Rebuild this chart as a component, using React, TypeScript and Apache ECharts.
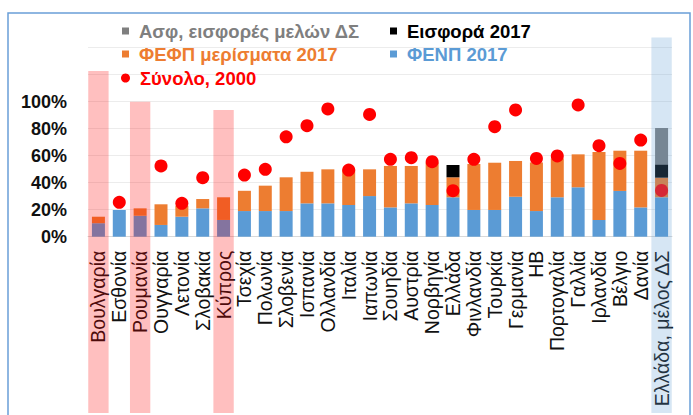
import React, { useEffect, useRef } from 'react';
import * as echarts from 'echarts';

const categories = [
  'Βουλγαρία', 'Εσθονία', 'Ρουμανία', 'Ουγγαρία', 'Λετονία', 'Σλοβακία', 'Κύπρος',
  'Τσεχία', 'Πολωνία', 'Σλοβενία', 'Ισπανία', 'Ολλανδία', 'Ιταλία', 'Ιαπωνία',
  'Σουηδία', 'Αυστρία', 'Νορβηγία', 'Ελλάδα', 'Φινλανδία', 'Τουρκία', 'Γερμανία',
  'ΗΒ', 'Πορτογαλία', 'Γαλλία', 'Ιρλανδία', 'Βέλγιο', 'Δανία', 'Ελλάδα, μέλος ΔΣ',
];

// ΦΕΝΠ 2017 (blue)
const fenp2017 = [
  10, 19.8, 15.5, 8.7, 14.8, 21, 12.4,
  19, 19, 19, 24.7, 24.7, 23.5, 30.1,
  21.7, 24.7, 23.5, 29.2, 19.8, 19.8, 29.6,
  19, 29.2, 36.6, 12.4, 33.9, 21.7, 29.2,
];

// ΦΕΦΠ μερίσματα 2017 (orange)
const fefp2017 = [
  4.8, 0, 5.5, 15.3, 8.2, 6.9, 16.8,
  15, 18.8, 25, 23.4, 25.2, 26.4, 19.8,
  30.7, 27.7, 31.5, 14.8, 34.1, 35, 26.5,
  36, 28.8, 24.4, 50.3, 29.8, 42, 14.5,
];

// Εισφορά 2017 (black)
const eisfora2017 = [
  null, null, null, null, null, null, null,
  null, null, null, null, null, null, null,
  null, null, null, 9.1, null, null, null,
  null, null, null, null, null, null, 9.9,
];

// Ασφ, εισφορές μελών ΔΣ (gray)
const asfEisfores = [
  null, null, null, null, null, null, null,
  null, null, null, null, null, null, null,
  null, null, null, null, null, null, null,
  null, null, null, null, null, null, 26.9,
];

// Σύνολο, 2000 (red dots)
const synolo2000 = [
  null, 25.5, null, 52.4, 24.7, 43.7, null,
  45.7, 49.9, 74, 82.2, 94.6, 49.4, 90.6,
  57.3, 58.5, 55.6, 34.1, 57.3, 81.5, 93.9,
  58, 59.8, 97.6, 67.4, 54.3, 71.6, 34.3,
];

// highlighted columns (category index, top value in %)
const pinkIdx = [0, 2, 6];
const pinkTops = [122.7, 100, 93.9];
const blueIdx = [27];
const blueTops = [147.6];

const C_BLUE = '#5b9bd5';
const C_ORANGE = '#ed7d31';
const C_BLACK = '#000000';
const C_GRAY = '#7f7f7f';
const C_RED = '#ff0000';

const NAMES = {
  gray: 'Ασφ, εισφορές μελών ΔΣ',
  black: 'Εισφορά 2017',
  orange: 'ΦΕΦΠ μερίσματα 2017',
  blue: 'ΦΕΝΠ 2017',
  red: 'Σύνολο, 2000',
};

const legendFont = 'Liberation Sans, Arial, sans-serif';

function mkLegend(name: string, color: string, left: number, top: number, icon: string, size: number) {
  return {
    data: [name],
    left,
    top,
    padding: 0,
    icon,
    itemWidth: size,
    itemHeight: size,
    selectedMode: false,
    textStyle: {
      color,
      fontSize: 18.5,
      fontWeight: 'bold',
      fontFamily: legendFont,
      padding: [0, 0, 0, 5],
    },
  };
}

export default function App() {
  const ref = useRef<HTMLDivElement>(null);
  useEffect(() => {
    if (!ref.current) return;
    const chart = echarts.init(ref.current, null, { renderer: 'svg' });
    const option: any = {
      animation: false,
      backgroundColor: '#ffffff',
      grid: { left: 88, right: 21, top: 47.7, bottom: 178.3, containLabel: false },
      legend: [
        mkLegend(NAMES.gray, C_GRAY, 122, 21.5, 'rect', 7),
        mkLegend(NAMES.black, C_BLACK, 390, 21.5, 'rect', 7),
        mkLegend(NAMES.orange, C_ORANGE, 122, 44.5, 'rect', 7),
        mkLegend(NAMES.blue, C_BLUE, 390, 44.5, 'rect', 7),
        mkLegend(NAMES.red, C_RED, 121, 68.5, 'circle', 9),
      ],
      xAxis: {
        type: 'category',
        data: categories,
        axisLine: { lineStyle: { color: '#d9d9d9', width: 1 } },
        axisTick: { show: false },
        axisLabel: {
          interval: 0,
          rotate: 90,
          margin: 14,
          color: '#111111',
          fontSize: 19.5,
          fontFamily: 'Liberation Sans, Arial, sans-serif',
        },
      },
      yAxis: {
        type: 'value',
        min: 0,
        max: 140,
        interval: 20,
        axisLine: { show: false },
        axisTick: { show: false },
        splitLine: { lineStyle: { color: '#ececec', width: 1 } },
        axisLabel: {
          margin: 21,
          color: '#111111',
          fontSize: 18,
          fontWeight: 'bold',
          fontFamily: 'Liberation Sans, Arial, sans-serif',
          formatter: (v: number) => (v <= 100 ? v + '%' : ''),
        },
      },
      series: [
        { name: NAMES.blue, type: 'bar', stack: 'a', barWidth: 13, data: fenp2017, itemStyle: { color: C_BLUE } },
        { name: NAMES.orange, type: 'bar', stack: 'a', barWidth: 13, data: fefp2017, itemStyle: { color: C_ORANGE } },
        { name: NAMES.black, type: 'bar', stack: 'a', barWidth: 13, data: eisfora2017, itemStyle: { color: C_BLACK } },
        { name: NAMES.gray, type: 'bar', stack: 'a', barWidth: 13, data: asfEisfores, itemStyle: { color: C_GRAY } },
        {
          name: NAMES.red, type: 'scatter', data: synolo2000, symbol: 'circle', symbolSize: 13,
          itemStyle: { color: C_RED, opacity: 1 }, z: 5,
        },
      ],
    };
    chart.setOption(option);

    const p0 = chart.convertToPixel({ gridIndex: 0 }, [0, 0]) as number[];
    const p1 = chart.convertToPixel({ gridIndex: 0 }, [1, 0]) as number[];
    const band = p1[0] - p0[0];
    const bottomY = 413;
    const mkCol = (idx: number, top: number, fill: string) => {
      const p = chart.convertToPixel({ gridIndex: 0 }, [idx, top]) as number[];
      const w = band - 0.5;
      return {
        type: 'rect',
        silent: true,
        z: 100,
        shape: { x: p[0] - w / 2, y: p[1], width: w, height: bottomY - p[1] },
        style: { fill },
      };
    };
    const graphics: any[] = [
      {
        type: 'rect',
        silent: true,
        z: 101,
        shape: { x: 8, y: 13, width: 682, height: 430 },
        style: { fill: 'none', stroke: '#6a9fd8', lineWidth: 1.5 },
      },
    ];
    pinkIdx.forEach((idx, i) => graphics.push(mkCol(idx, pinkTops[i], 'rgba(255,0,0,0.25)')));
    blueIdx.forEach((idx, i) => graphics.push(mkCol(idx, blueTops[i], 'rgba(91,155,213,0.25)')));
    chart.setOption({ graphic: graphics });

    return () => chart.dispose();
  }, []);
  return (
    <div
      ref={ref}
      style={{ position: 'fixed', left: 0, top: 0, width: 693, height: 415, background: '#fff' }}
    />
  );
}
